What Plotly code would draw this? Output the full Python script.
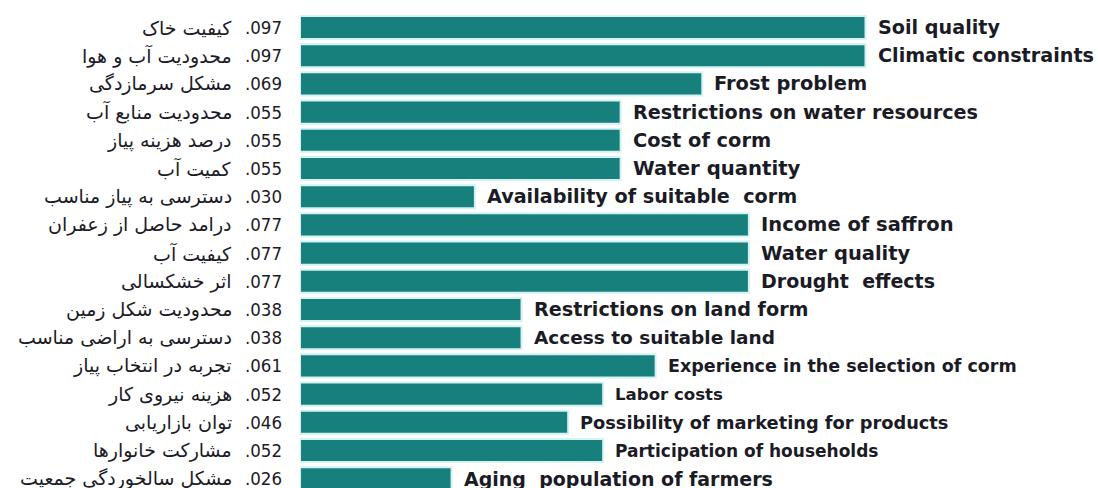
import plotly.graph_objects as go

# ---- data ----
persian_labels = [
    "کیفیت خاک",
    "محدودیت آب و هوا",
    "مشکل سرمازدگی",
    "محدودیت منابع آب",
    "درصد هزینه پیاز",
    "کمیت آب",
    "دسترسی به پیاز مناسب",
    "درامد حاصل از زعفران",
    "کیفیت آب",
    "اثر خشکسالی",
    "محدودیت شکل زمین",
    "دسترسی به اراضی مناسب",
    "تجربه در انتخاب پیاز",
    "هزینه نیروی کار",
    "توان بازاریابی",
    "مشارکت خانوارها",
    "مشکل سالخوردگی جمعیت",
]
english_labels = [
    "Soil quality",
    "Climatic constraints",
    "Frost problem",
    "Restrictions on water resources",
    "Cost of corm",
    "Water quantity",
    "Availability of suitable  corm",
    "Income of saffron",
    "Water quality",
    "Drought  effects",
    "Restrictions on land form",
    "Access to suitable land",
    "Experience in the selection of corm",
    "Labor costs",
    "Possibility of marketing for products",
    "Participation of households",
    "Aging  population of farmers",
]
weights = [0.097, 0.097, 0.069, 0.055, 0.055, 0.055, 0.030, 0.077, 0.077, 0.077,
           0.038, 0.038, 0.061, 0.052, 0.046, 0.052, 0.026]
value_labels = [".097", ".097", ".069", ".055", ".055", ".055", ".030", ".077", ".077",
                ".077", ".038", ".038", ".061", ".052", ".046", ".052", ".026"]

# ---- styling ----
BAR = "#17807c"
HALO = "#d4f2f2"
TEXT = "#1b1b26"
W, H = 1098, 488
LEFT = 300
PX_PER_UNIT = 5830
PITCH = 28.2
FIRST_CENTER = 27.5
en_sizes = [19.2, 19.2, 19.4, 19.2, 19.4, 19.7, 19.2, 19.5, 19.5, 19, 19.2, 18.5,
            17.5, 16.6, 17.8, 17, 19]

n = len(weights)
idx = list(range(n))

fig = go.Figure()
fig.add_trace(go.Bar(
    x=weights, y=idx, orientation="h",
    width=0.82,
    marker=dict(color=BAR, line=dict(color=HALO, width=2)),
    hoverinfo="skip",
))

for i in idx:
    fig.add_annotation(x=weights[i], y=i, xref="x", yref="y", text=english_labels[i],
                       showarrow=False, xanchor="left", yanchor="middle", xshift=10,
                       font=dict(family="DejaVu Sans", size=en_sizes[i], color=TEXT, weight="bold"))
    fig.add_annotation(x=0, y=i, xref="paper", yref="y", text=value_labels[i],
                       showarrow=False, xanchor="right", yanchor="middle", xshift=-16,
                       font=dict(family="Liberation Sans Narrow, DejaVu Sans Condensed, Arial", size=18.5, color=TEXT))
    fig.add_annotation(x=0, y=i, xref="paper", yref="y", text=persian_labels[i],
                       showarrow=False, xanchor="right", yanchor="middle", xshift=-66,
                       font=dict(family="DejaVu Sans", size=19, color=TEXT))

r0 = -FIRST_CENTER / PITCH
r1 = r0 + H / PITCH
fig.update_layout(
    width=W, height=H,
    margin=dict(l=LEFT, r=0, t=0, b=0),
    paper_bgcolor="white", plot_bgcolor="white",
    showlegend=False,
    xaxis=dict(range=[0, (W - LEFT) / PX_PER_UNIT], visible=False),
    yaxis=dict(range=[r1, r0], visible=False),
)
fig.write_html("out.html", config={"displayModeBar": False},
               post_script="document.body.style.margin='0';document.body.style.overflow='hidden';")
